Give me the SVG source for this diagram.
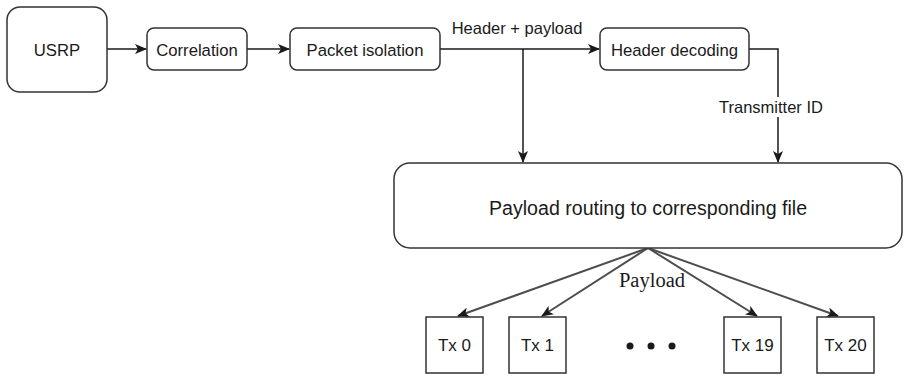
<svg xmlns="http://www.w3.org/2000/svg" width="907" height="376" viewBox="0 0 907 376">
  <style>
    .box { fill: #ffffff; stroke: #333333; stroke-width: 1.5; }
    .lbl { font-family: "Liberation Sans", Arial, sans-serif; font-size: 16.7px; fill: #1a1a1a; text-anchor: middle; }
    .big { font-size: 19.6px; }
    .tx { font-size: 17px; }
    .edge { fill: none; stroke: #1a1a1a; stroke-width: 1.5; }
    .fan { fill: none; stroke: #4d4d4d; stroke-width: 2; }
    .elbl { font-family: "Liberation Sans", Arial, sans-serif; font-size: 16.5px; fill: #1a1a1a; }
  </style>
  <defs>
    <marker id="arrow" viewBox="0 0 12 10" refX="11" refY="5" markerWidth="12" markerHeight="10" markerUnits="userSpaceOnUse" orient="auto">
      <path d="M0,0 L12,5 L0,10 L3,5 Z" fill="#1a1a1a"/>
    </marker>
  </defs>

  <rect width="907" height="376" fill="#ffffff"/>

  <!-- connectors -->
  <g id="connectors">
    <path class="edge" d="M107,49 H146" marker-end="url(#arrow)"/>
    <path class="edge" d="M247,49 H289" marker-end="url(#arrow)"/>
    <path class="edge" d="M440,49 H599" marker-end="url(#arrow)"/>
    <path class="edge" d="M523,49 V162" marker-end="url(#arrow)"/>
    <path class="edge" d="M749,49 H778 V162" marker-end="url(#arrow)"/>
    <text class="elbl" x="517" y="34" text-anchor="middle">Header + payload</text>
    <rect x="717" y="97" width="108" height="20" fill="#ffffff"/>
    <text class="elbl" x="771" y="113" text-anchor="middle">Transmitter ID</text>

    <path class="fan" d="M648,248 L458,316" marker-end="url(#arrow)"/>
    <path class="fan" d="M648,248 L542,316" marker-end="url(#arrow)"/>
    <path class="fan" d="M648,248 L757,316" marker-end="url(#arrow)"/>
    <path class="fan" d="M648,248 L838,316" marker-end="url(#arrow)"/>
    <text x="652" y="287" text-anchor="middle" font-family="'Liberation Serif', 'Times New Roman', serif" font-size="20.5" fill="#1a1a1a">Payload</text>
  </g>

  <g id="usrp">
    <rect class="box" x="7" y="7" width="100" height="85" rx="13"/>
    <text class="lbl" x="57" y="56">USRP</text>
  </g>
  <g id="correlation">
    <rect class="box" x="147" y="28" width="100" height="42" rx="7"/>
    <text class="lbl" x="197" y="55.5">Correlation</text>
  </g>
  <g id="packet-isolation">
    <rect class="box" x="290" y="28" width="150" height="42" rx="7"/>
    <text class="lbl" x="365" y="55.5">Packet isolation</text>
  </g>
  <g id="header-decoding">
    <rect class="box" x="600" y="28" width="149" height="42" rx="7"/>
    <text class="lbl" x="674.5" y="55.5">Header decoding</text>
  </g>
  <g id="payload-routing">
    <rect class="box" x="394" y="163" width="508" height="85" rx="16"/>
    <text class="lbl big" x="648" y="215">Payload routing to corresponding file</text>
  </g>
  <g id="tx0">
    <rect class="box" x="426" y="317" width="57" height="56"/>
    <text class="lbl tx" x="454.5" y="351">Tx 0</text>
  </g>
  <g id="tx1">
    <rect class="box" x="509" y="317" width="57" height="56"/>
    <text class="lbl tx" x="537.5" y="351">Tx 1</text>
  </g>
  <g id="ellipsis">
    <circle cx="630" cy="346" r="3.5" fill="#1a1a1a"/>
    <circle cx="651" cy="346" r="3.5" fill="#1a1a1a"/>
    <circle cx="672" cy="346" r="3.5" fill="#1a1a1a"/>
  </g>
  <g id="tx19">
    <rect class="box" x="724" y="317" width="57" height="56"/>
    <text class="lbl tx" x="752.5" y="351">Tx 19</text>
  </g>
  <g id="tx20">
    <rect class="box" x="817" y="317" width="57" height="56"/>
    <text class="lbl tx" x="845.5" y="351">Tx 20</text>
  </g>
</svg>
